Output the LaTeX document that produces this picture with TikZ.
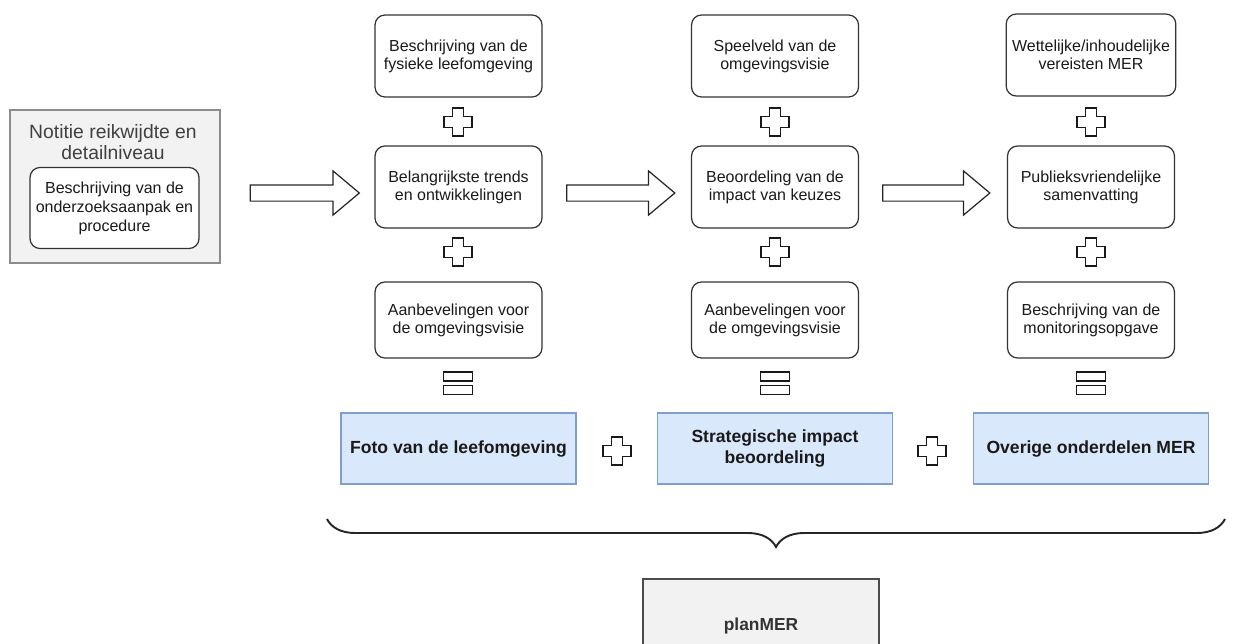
\documentclass[tikz,border=0pt]{standalone}
\usepackage{fontspec}
\setmainfont{Liberation Sans}
\usetikzlibrary{shapes.arrows,decorations.pathreplacing}

\definecolor{blauwvlak}{HTML}{DAE8FC}
\definecolor{blauwrand}{HTML}{7F9FCF}
\definecolor{grijsvlak}{HTML}{F2F2F2}
\definecolor{tekstkleur}{HTML}{1A1A1A}

\begin{document}
\begin{tikzpicture}[x=0.02cm, y=-0.02cm,
    vak/.style={draw=black!80, line width=0.7pt, rounded corners=0.2cm, fill=white,
        align=center, text=tekstkleur, minimum width=3.34cm, minimum height=1.64cm,
        font=\fontsize{9.1}{10.2}\selectfont},
    blauwvak/.style={draw=blauwrand, line width=1.1pt, fill=blauwvlak, align=center,
        text=tekstkleur, minimum width=4.7cm, minimum height=1.42cm,
        font=\bfseries\fontsize{10}{12}\selectfont},
    grijsvak/.style={fill=grijsvlak, minimum width=4.72cm, minimum height=1.88cm},
    pijl/.style={single arrow, draw=black!85, fill=white, line width=0.7pt,
        minimum height=2.18cm, inner xsep=0pt, inner ysep=0.15cm,
        single arrow head extend=0.28cm, single arrow tip angle=80},
    teken/.style={draw=black!90, line width=1pt, fill=white}]
    \useasboundingbox (0,0) rectangle (1238,643);

    % Notitie reikwijdte en detailniveau
    \node[draw=black!45, line width=1.6pt, fill=grijsvlak, minimum width=4.2cm,
        minimum height=3.06cm] (notitie) at (115,186.5) {};
    \node[align=center, text=black!75, font=\fontsize{11}{11.6}\selectfont]
        (notitietitel) at (113,142) {Notitie reikwijdte en\\detailniveau};
    \node[vak, minimum width=3.3cm, minimum height=1.62cm,
        font=\fontsize{9.1}{10.8}\selectfont] (aanpak) at (114.5,208)
        {Beschrijving van de\\onderzoeksaanpak en\\procedure};

    % Kolom 1
    \node[vak] (fysiek) at (458.5,56) {Beschrijving van de\\fysieke leefomgeving};
    \node[vak] (trends) at (458.5,187) {Belangrijkste trends\\en ontwikkelingen};
    \node[vak, minimum height=1.52cm] (aanbev1) at (458.5,320) {Aanbevelingen voor\\de omgevingsvisie};
    \node[blauwvak] (foto) at (458.5,448.5) {Foto van de leefomgeving};

    % Kolom 2
    \node[vak] (speelveld) at (775,56) {Speelveld van de\\omgevingsvisie};
    \node[vak] (impact) at (775,187) {Beoordeling van de\\impact van keuzes};
    \node[vak, minimum height=1.52cm] (aanbev2) at (775,320) {Aanbevelingen voor\\de omgevingsvisie};
    \node[blauwvak] (sib) at (775,448.5) {Strategische impact\\beoordeling};

    % Kolom 3
    \node[vak] (vereisten) at (1091,55) {Wettelijke/inhoudelijke\\vereisten MER};
    \node[vak] (samenvatting) at (1091,187) {Publieksvriendelijke\\samenvatting};
    \node[vak, minimum height=1.52cm] (monitoring) at (1091,320) {Beschrijving van de\\monitoringsopgave};
    \node[blauwvak] (overig) at (1091,448.5) {Overige onderdelen MER};

    % Pijlen
    \node[pijl] (pijl1) at (300,193) {};
    \node[pijl, minimum height=2.16cm] (pijl2) at (616,193) {};
    \node[pijl, minimum height=2.14cm] (pijl3) at (931.5,193) {};

    % Plustekens
    \foreach \x/\y in {458/122, 458/252, 775/122, 775/252, 1091/122, 1091/252, 617/451, 932/451} {
        \draw[teken, shift={(\x,\y)}] (-5.5,-14) -- (5.5,-14) -- (5.5,-5.5) -- (14,-5.5)
            -- (14,5.5) -- (5.5,5.5) -- (5.5,14) -- (-5.5,14) -- (-5.5,5.5) -- (-14,5.5)
            -- (-14,-5.5) -- (-5.5,-5.5) -- cycle;
    }

    % Isgelijktekens
    \foreach \x in {458, 775, 1091} {
        \draw[teken, shift={(\x,383)}] (-14.5,-11) rectangle (14.5,-2);
        \draw[teken, shift={(\x,383)}] (-14.5,2.5) rectangle (14.5,11.5);
    }

    % Accolade
    \draw[decorate, decoration={brace, amplitude=0.56cm}, line width=1.1pt, black!85]
        (1225,519) -- (327,519);

    % planMER
    \node[grijsvak, draw=black!70, line width=1.3pt, font=\bfseries\fontsize{9.9}{11}\selectfont,
        text=black!80] (planmer) at (761,626) {planMER};
\end{tikzpicture}
\end{document}
